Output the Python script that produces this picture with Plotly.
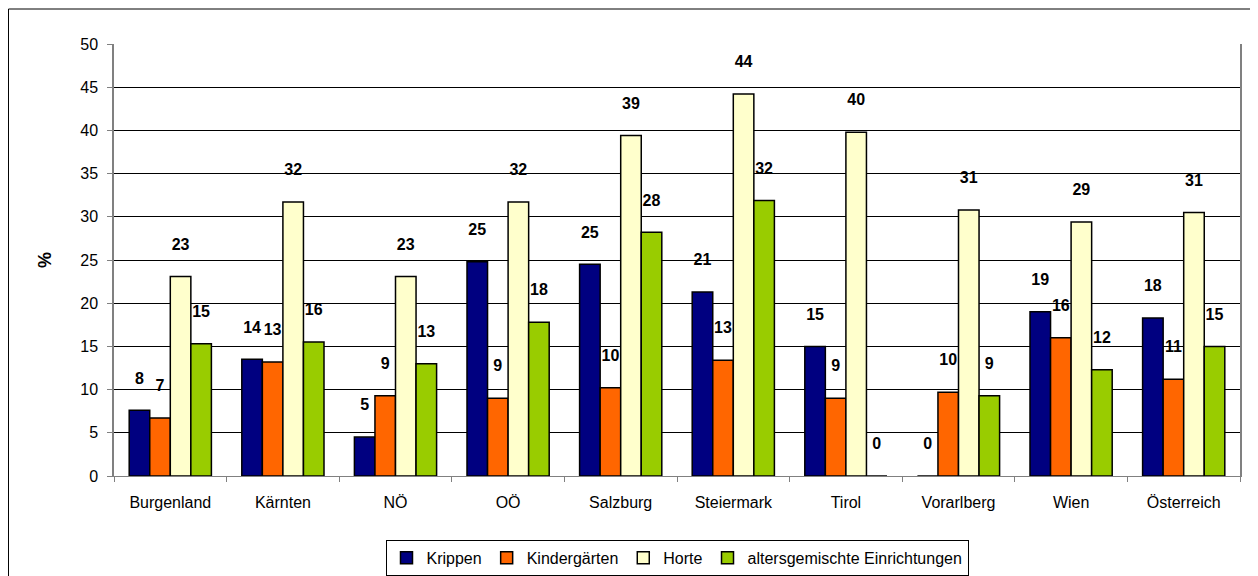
import plotly.graph_objects as go

categories = ["Burgenland", "Kärnten", "NÖ", "OÖ", "Salzburg", "Steiermark",
              "Tirol", "Vorarlberg", "Wien", "Österreich"]
krippen = [7.6, 13.5, 4.5, 24.8, 24.5, 21.3, 15.0, 0.0, 19.0, 18.3]
kindergaerten = [6.7, 13.2, 9.3, 9.0, 10.2, 13.4, 9.0, 9.7, 16.0, 11.2]
horte = [23.1, 31.7, 23.1, 31.7, 39.4, 44.2, 39.8, 30.8, 29.4, 30.5]
altersgemischt = [15.3, 15.5, 13.0, 17.8, 28.2, 31.9, 0.0, 9.3, 12.3, 15.0]

series = [
    ("Krippen", krippen, "#000080"),
    ("Kindergärten", kindergaerten, "#FF6600"),
    ("Horte", horte, "#FFFFCC"),
    ("altersgemischte Einrichtungen", altersgemischt, "#99CC00"),
]

FONT = "Arial, Liberation Sans, sans-serif"


def half_up(v):
    return int(v + 0.5)


fig = go.Figure()
for name, vals, color in series:
    fig.add_trace(go.Bar(
        name=name, x=categories, y=vals,
        marker=dict(color=color, line=dict(color="black", width=1.5)),
        text=[f"{half_up(v)}<br> " for v in vals],
        textposition="outside",
        textfont=dict(family=FONT, size=16, color="black", weight="bold"),
        cliponaxis=False,
    ))

fig.update_layout(
    width=1258, height=576,
    margin=dict(l=106, r=26, t=36, b=108, autoexpand=False),
    paper_bgcolor="white", plot_bgcolor="white",
    barmode="group", bargap=0.27, bargroupgap=0,
    font=dict(family=FONT, size=15, color="black"),
    showlegend=True,
    legend=dict(orientation="h", x=0.5, xanchor="center", y=-0.148, yanchor="top",
                bordercolor="black", borderwidth=1, font=dict(size=16),
                itemwidth=30, traceorder="normal"),
    xaxis=dict(showline=True, linecolor="#808080", linewidth=1, automargin=False,
               ticks="outside", tickson="boundaries", ticklen=5, tickcolor="#808080",
               ticklabelstandoff=12, tickfont=dict(size=16)),
    yaxis=dict(range=[0, 50], dtick=5, showgrid=True, gridcolor="black", gridwidth=1,
               showline=True, linecolor="#808080", linewidth=1.5, mirror=True,
               ticks="outside", ticklen=5, tickcolor="#808080", automargin=False,
               ticklabelstandoff=6, tickfont=dict(size=16), zeroline=False,
               title=dict(text="%", font=dict(size=18, weight="bold"), standoff=24)),
    shapes=[
        dict(type="line", xref="paper", yref="paper", x0=-0.0937, x1=1.013,
             y0=1.081, y1=1.081, line=dict(color="black", width=1)),
        dict(type="line", xref="paper", yref="paper", x0=-0.0937, x1=-0.0937,
             y0=-0.3, y1=1.081, line=dict(color="black", width=1)),
        dict(type="line", xref="paper", yref="paper", x0=1.013, x1=1.013,
             y0=-0.3, y1=1.081, line=dict(color="#808080", width=1)),
    ],
)

fig.write_html("out.html")
